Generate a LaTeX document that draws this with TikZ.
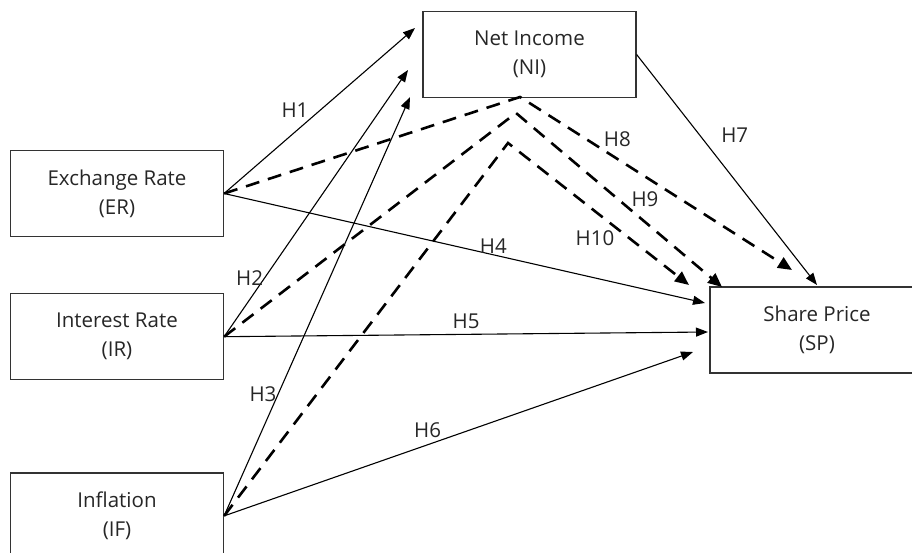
\documentclass[tikz,border=0pt]{standalone}
\usepackage{fontspec}
\setmainfont{Open Sans}
\usetikzlibrary{arrows.meta, positioning}

\begin{document}
\begin{tikzpicture}[
    x=1pt, y=-1pt,
    every node/.style={font=\fontsize{20.5}{29}\selectfont, text=black!85},
    box/.style={draw=black!80, line width=1.2pt, minimum width=213pt, minimum height=86pt,
                align=center, inner sep=0pt},
    direct/.style={-{Triangle[length=12pt,width=9pt]}, line width=1.1pt},
    mediated/.style={-{Triangle[length=14pt,width=12pt]}, line width=2.6pt,
                     dash pattern=on 14pt off 9pt},
    hyp/.style={inner sep=1pt}
]
\clip (0,0) rectangle (912,553);

\node[box] (ER) at (117,193.5) {Exchange Rate\\(ER)};
\node[box, below=56pt of ER] (IR) {Interest Rate\\(IR)};
\node[box, below=92pt of IR] (IF) {Inflation\\(IF)};
\node[box] (NI) at (529.5,54.5) {Net Income\\(NI)};
\node[box, minimum width=214pt] (SP) at (817,330) {Share Price\\(SP)};

% arrow ends
\coordinate (n1) at (415,28);
\coordinate (n2) at (408,70);
\coordinate (n3) at (410,97);
\coordinate (s4) at (705,303);
\coordinate (s5) at (708,332);
\coordinate (s6) at (693,352);
\coordinate (s7) at (817,285);
\coordinate (s8) at (792,270);
\coordinate (s9) at (722,287);
\coordinate (s10) at (689,285);

% joints below NI
\coordinate (j1) at (520,97);
\coordinate (j2) at (516,113);
\coordinate (j3) at (508,143);

% direct paths
\draw[direct] (ER.east) -- node[hyp, pos=0.45, anchor=south east] {H1} (n1);
\draw[direct] (IR.east) -- node[hyp, pos=0.22, anchor=east] {H2} (n2);
\draw[direct] (IF.east) -- node[hyp, pos=0.29, anchor=east] {H3} (n3);
\draw[direct] (ER.east) -- node[hyp, pos=0.56, anchor=south] {H4} (s4);
\draw[direct] (IR.east) -- node[hyp, pos=0.5, above=4pt] {H5} (s5);
\draw[direct] (IF.east) -- node[hyp, pos=0.434, above=6pt] {H6} (s6);
\draw[direct] (NI.east) -- node[hyp, pos=0.35, right=20pt] {H7} (s7);

% mediated paths
\draw[mediated] (ER.east) -- (j1) -- node[hyp, pos=0.3, anchor=south west] {H8} (s8);
\draw[mediated] (IR.east) -- (j2) -- node[hyp, pos=0.55, anchor=south west] {H9} (s9);
\draw[mediated] (IF.east) -- (j3) -- node[hyp, pos=0.6, anchor=north east] {H10} (s10);

\end{tikzpicture}
\end{document}
